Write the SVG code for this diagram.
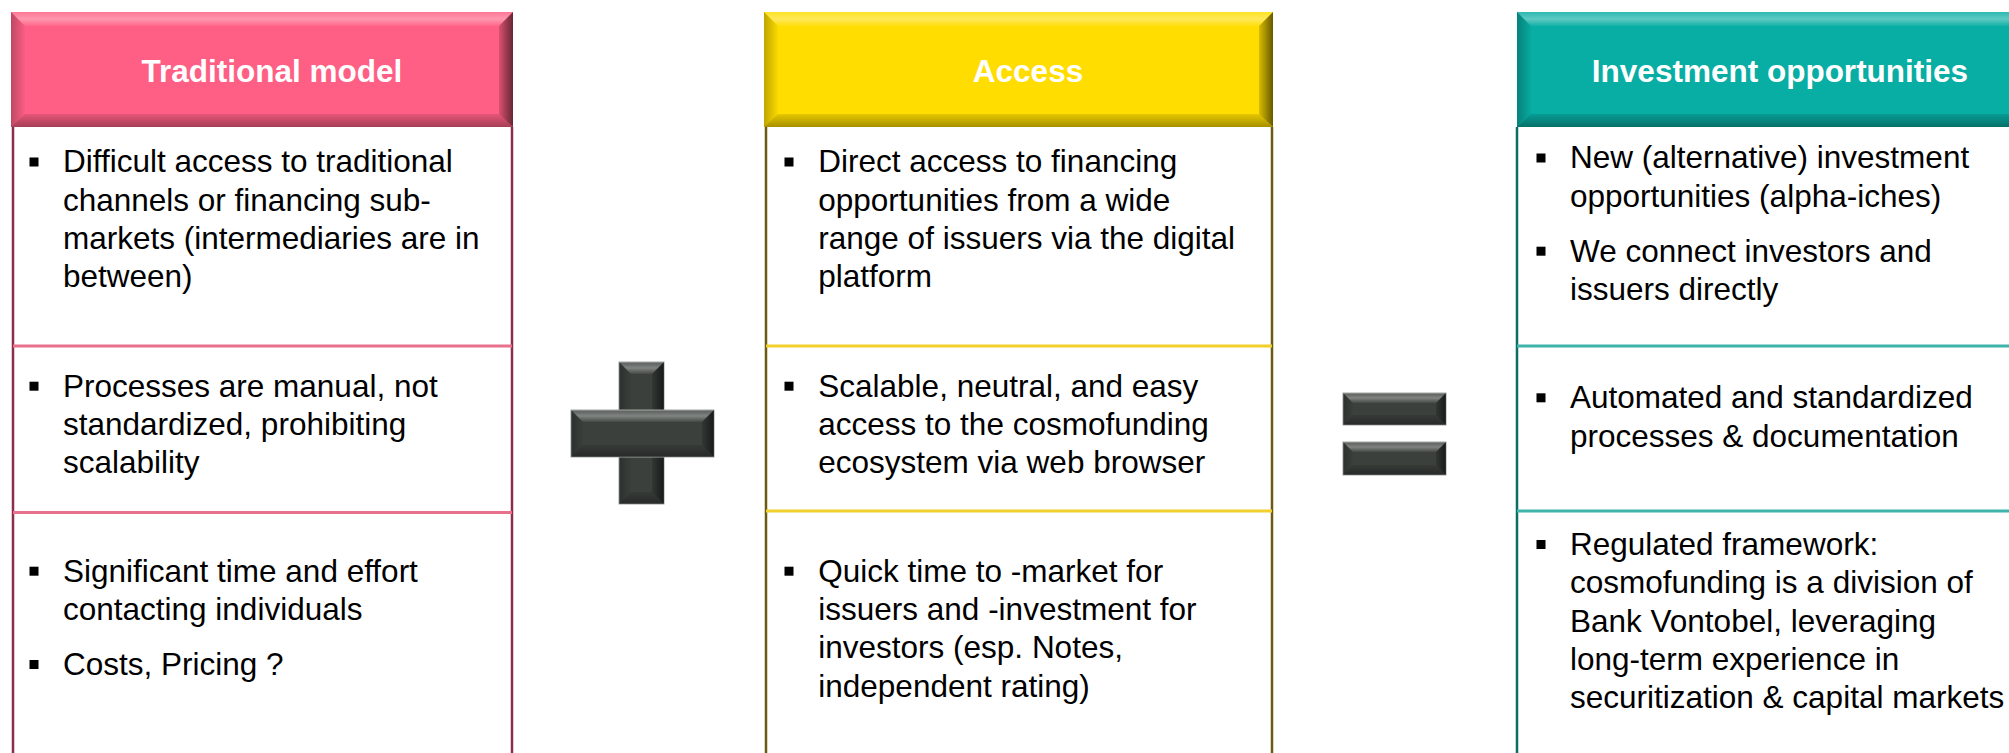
<svg xmlns="http://www.w3.org/2000/svg" width="2009" height="753" viewBox="0 0 2009 753">
<defs>
<linearGradient id="gTop" x1="0" y1="0" x2="0" y2="1">
<stop offset="0" stop-color="#fff" stop-opacity="0.15"/>
<stop offset="0.5" stop-color="#fff" stop-opacity="0.35"/>
<stop offset="1" stop-color="#fff" stop-opacity="0.05"/>
</linearGradient>
<linearGradient id="gBot" x1="0" y1="0" x2="0" y2="1">
<stop offset="0" stop-color="#000" stop-opacity="0.1"/>
<stop offset="1" stop-color="#000" stop-opacity="0.35"/>
</linearGradient>
<linearGradient id="gRight" x1="0" y1="0" x2="1" y2="0">
<stop offset="0" stop-color="#000" stop-opacity="0.15"/>
<stop offset="1" stop-color="#000" stop-opacity="0.6"/>
</linearGradient>
<linearGradient id="gLeft" x1="0" y1="0" x2="1" y2="0">
<stop offset="0" stop-color="#000" stop-opacity="0.25"/>
<stop offset="1" stop-color="#000" stop-opacity="0.02"/>
</linearGradient>
</defs>
<style>
.body{font-family:"Liberation Sans",Arial,sans-serif;font-size:31.5px;fill:#000}
.head{font-family:"Liberation Sans",Arial,sans-serif;font-size:31.5px;font-weight:bold;fill:#fff;text-anchor:middle}
.bt{fill:url(#gTop)}
.bb{fill:url(#gBot)}
.br{fill:url(#gRight)}
.bl{fill:url(#gLeft)}
.op{fill:#3b403d;stroke:#9fa3a0;stroke-width:1}
.b1v{stroke:#8c2d4b;stroke-width:2.5;fill:none}
.b1h{stroke:#e8708c;stroke-width:3;fill:none}
.b2v{stroke:#6b5a10;stroke-width:2.5;fill:none}
.b2h{stroke:#f2cf2a;stroke-width:3;fill:none}
.b3v{stroke:#0b6e66;stroke-width:2.5;fill:none}
.b3h{stroke:#3fb4ab;stroke-width:3;fill:none}
</style>
<rect width="2009" height="753" fill="#fff"/>

<g id="col-traditional">
<line class="b1v" x1="13" y1="127" x2="13" y2="753"/>
<line class="b1v" x1="512" y1="127" x2="512" y2="753"/>
<line class="b1h" x1="13" y1="346" x2="512" y2="346"/>
<line class="b1h" x1="13" y1="512.5" x2="512" y2="512.5"/>
<rect x="11" y="12" width="502" height="115" fill="#ff5f84"/>
<polygon class="bt" points="11,12 513,12 499,26 25,26"/>
<polygon class="bl" points="11,12 25,26 25,114 11,127"/>
<polygon class="bb" points="11,127 25,114 499,114 513,127"/>
<polygon class="br" points="513,12 513,127 499,114 499,26"/>
<text class="head" x="272" y="82">Traditional model</text>
<g class="body">
<rect x="29.5" y="157.5" width="9" height="9"/>
<text x="63"><tspan x="63" y="172.3">Difficult access to traditional</tspan><tspan x="63" y="210.6">channels or financing sub-</tspan><tspan x="63" y="248.9">markets (intermediaries are in</tspan><tspan x="63" y="287.2">between)</tspan></text>
<rect x="29.5" y="381.7" width="9" height="9"/>
<text x="63"><tspan x="63" y="396.7">Processes are manual, not</tspan><tspan x="63" y="435">standardized, prohibiting</tspan><tspan x="63" y="473.3">scalability</tspan></text>
<rect x="29.5" y="566.7" width="9" height="9"/>
<text x="63"><tspan x="63" y="581.7">Significant time and effort</tspan><tspan x="63" y="620">contacting individuals</tspan></text>
<rect x="29.5" y="660" width="9" height="9"/>
<text x="63" y="675">Costs, Pricing ?</text>
</g>
</g>

<g id="col-access">
<line class="b2v" x1="766" y1="127" x2="766" y2="753"/>
<line class="b2v" x1="1272" y1="127" x2="1272" y2="753"/>
<line class="b2h" x1="766" y1="346" x2="1272" y2="346"/>
<line class="b2h" x1="766" y1="511" x2="1272" y2="511"/>
<rect x="764" y="12" width="509" height="115" fill="#ffdd00"/>
<polygon class="bt" points="764,12 1273,12 1259,26 778,26"/>
<polygon class="bl" points="764,12 778,26 778,114 764,127"/>
<polygon class="bb" points="764,127 778,114 1259,114 1273,127"/>
<polygon class="br" points="1273,12 1273,127 1259,114 1259,26"/>
<text class="head" x="1028" y="82">Access</text>
<g class="body">
<rect x="784.5" y="157.5" width="9" height="9"/>
<text><tspan x="818.3" y="172.3">Direct access to financing</tspan><tspan x="818.3" y="210.6">opportunities from a wide</tspan><tspan x="818.3" y="248.9">range of issuers via the digital</tspan><tspan x="818.3" y="287.2">platform</tspan></text>
<rect x="784.5" y="381.7" width="9" height="9"/>
<text><tspan x="818.3" y="396.7">Scalable, neutral, and easy</tspan><tspan x="818.3" y="435">access to the cosmofunding</tspan><tspan x="818.3" y="473.3">ecosystem via web browser</tspan></text>
<rect x="784.5" y="566.7" width="9" height="9"/>
<text><tspan x="818.3" y="581.7">Quick time to -market for</tspan><tspan x="818.3" y="620">issuers and -investment for</tspan><tspan x="818.3" y="658.3">investors (esp. Notes,</tspan><tspan x="818.3" y="696.6">independent rating)</tspan></text>
</g>
</g>

<g id="col-investment">
<line class="b3v" x1="1517" y1="127" x2="1517" y2="753"/>
<line class="b3h" x1="1517" y1="346" x2="2009" y2="346"/>
<line class="b3h" x1="1517" y1="511" x2="2009" y2="511"/>
<rect x="1517" y="12" width="510" height="115" fill="#08ada3"/>
<polygon class="bt" points="1517,12 2027,12 2013,26 1531,26"/>
<polygon class="bl" points="1517,12 1531,26 1531,114 1517,127"/>
<polygon class="bb" points="1517,127 1531,114 2013,114 2027,127"/>
<text class="head" x="1780" y="82">Investment opportunities</text>
<g class="body">
<rect x="1536.5" y="153.5" width="9" height="9"/>
<text><tspan x="1570" y="168.3">New (alternative) investment</tspan><tspan x="1570" y="206.6">opportunities (alpha-iches)</tspan></text>
<rect x="1536.5" y="246.7" width="9" height="9"/>
<text><tspan x="1570" y="261.7">We connect investors and</tspan><tspan x="1570" y="300">issuers directly</tspan></text>
<rect x="1536.5" y="393.3" width="9" height="9"/>
<text><tspan x="1570" y="408.3">Automated and standardized</tspan><tspan x="1570" y="446.6">processes &amp; documentation</tspan></text>
<rect x="1536.5" y="540" width="9" height="9"/>
<text><tspan x="1570" y="555">Regulated framework:</tspan><tspan x="1570" y="593.3">cosmofunding is a division of</tspan><tspan x="1570" y="631.6">Bank Vontobel, leveraging</tspan><tspan x="1570" y="669.9">long-term experience in</tspan><tspan x="1570" y="708.2">securitization &amp; capital markets</tspan></text>
</g>
</g>

<g id="plus">
<rect class="op" x="619" y="362" width="45" height="142"/>
<polygon class="bt" points="619,362 664,362 652,374 631,374"/>
<polygon class="br" points="664,362 664,504 652,492 652,374"/>
<polygon class="bl" points="619,362 631,374 631,492 619,504"/>
<polygon class="bb" points="619,504 631,492 652,492 664,504"/>
<rect class="op" x="571" y="410" width="143" height="47"/>
<polygon class="bt" points="571,410 714,410 702,422 583,422"/>
<polygon class="br" points="714,410 714,457 702,445 702,422"/>
<polygon class="bl" points="571,410 583,422 583,445 571,457"/>
<polygon class="bb" points="571,457 583,445 702,445 714,457"/>
</g>

<g id="equals">
<rect class="op" x="1343" y="393" width="103" height="32"/>
<polygon class="bt" points="1343,393 1446,393 1436,403 1353,403"/>
<polygon class="br" points="1446,393 1446,425 1436,415 1436,403"/>
<polygon class="bl" points="1343,393 1353,403 1353,415 1343,425"/>
<polygon class="bb" points="1343,425 1353,415 1436,415 1446,425"/>
<rect class="op" x="1343" y="442" width="103" height="33"/>
<polygon class="bt" points="1343,442 1446,442 1436,452 1353,452"/>
<polygon class="br" points="1446,442 1446,475 1436,465 1436,452"/>
<polygon class="bl" points="1343,442 1353,452 1353,465 1343,475"/>
<polygon class="bb" points="1343,475 1353,465 1436,465 1446,475"/>
</g>

<g id="connectors"></g>
</svg>
